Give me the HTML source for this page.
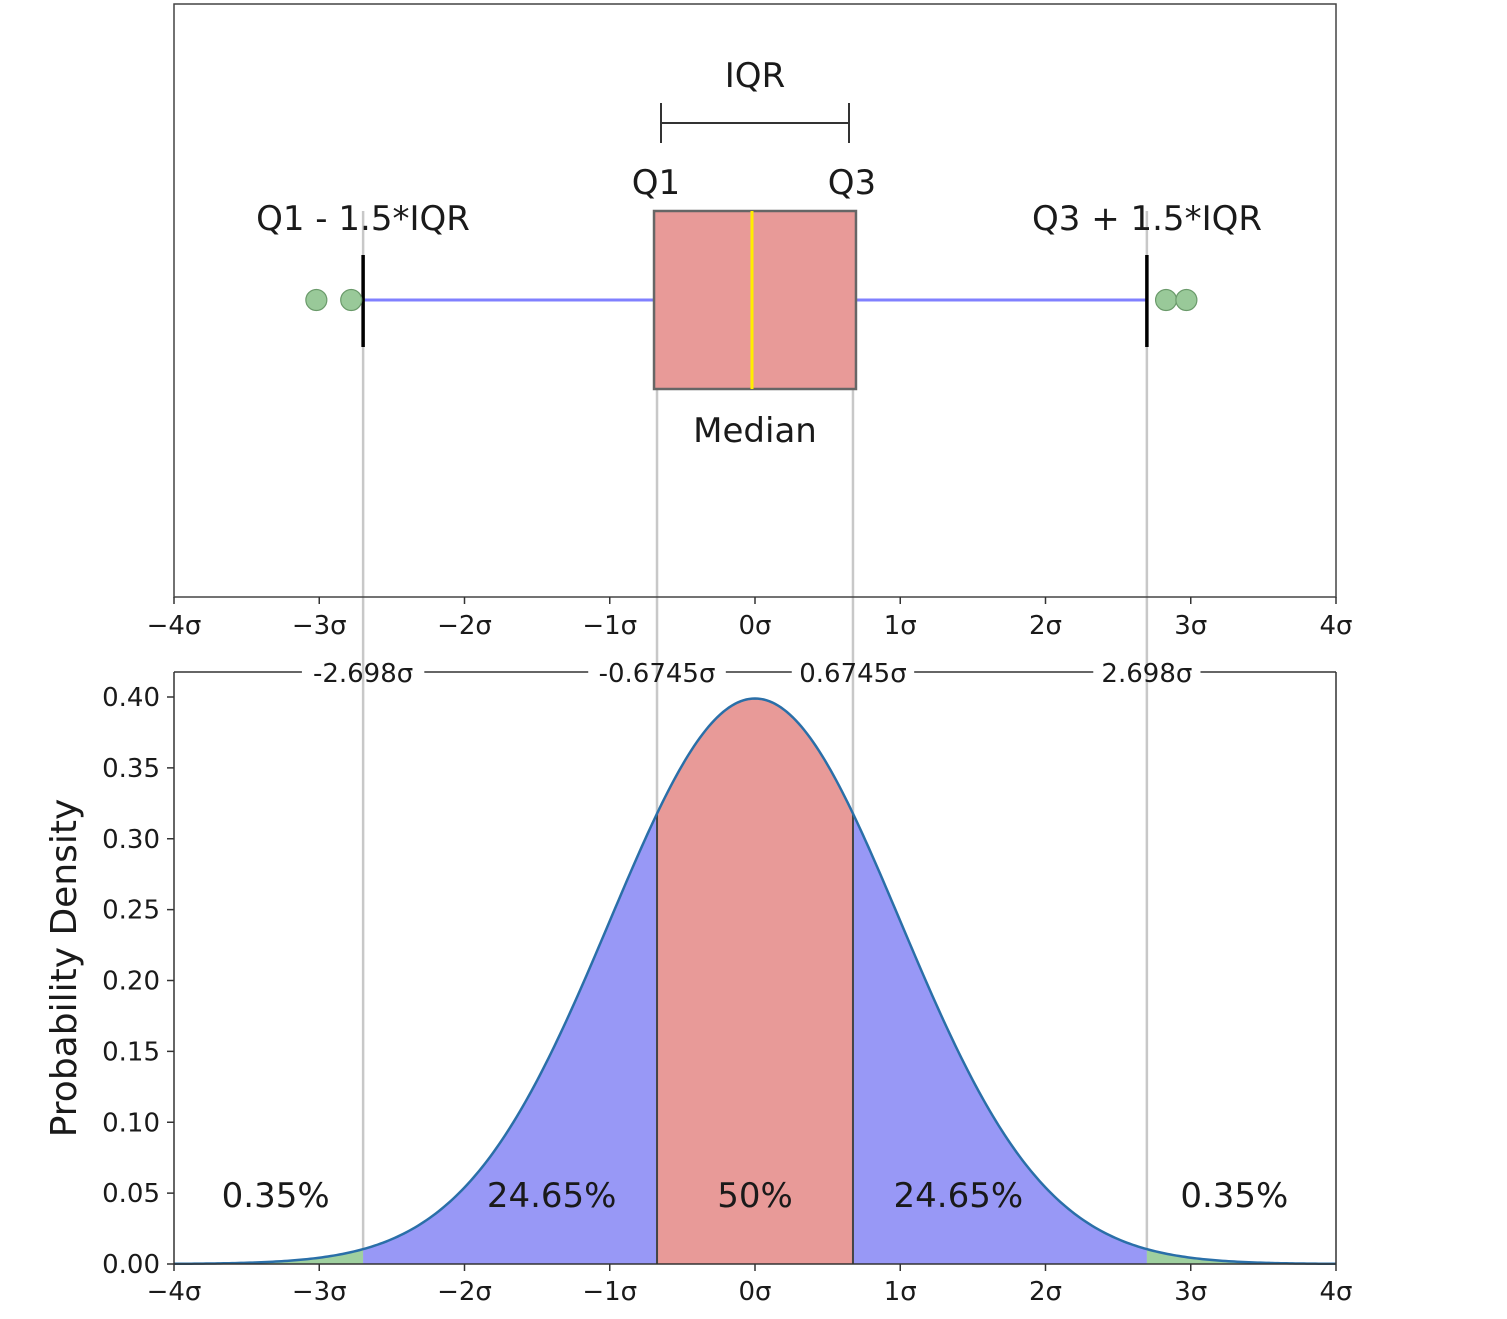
<!DOCTYPE html>
<html><head><meta charset="utf-8"><style>
html,body{margin:0;padding:0;background:#fff;}
svg{display:block;font-family:"DejaVu Sans","Liberation Sans",sans-serif;}
</style></head><body>
<svg id="chart" width="1507" height="1319" viewBox="0 0 1507 1319" xmlns="http://www.w3.org/2000/svg"></svg>
<script>
const xTickVals=[-4,-3,-2,-1,0,1,2,3,4];
const yTickVals=[0,0.05,0.10,0.15,0.20,0.25,0.30,0.35,0.40];
const quartiles=[-0.6745,0,0.6745];
const whiskers=[-2.698,2.698];
const outliers=[-3.02,-2.78,2.83,2.97];
const boundaryLabels=["-2.698σ","-0.6745σ","0.6745σ","2.698σ"];
const boundaryVals=[-2.698,-0.6745,0.6745,2.698];
const pctLabels=["0.35%","24.65%","50%","24.65%","0.35%"];
const pctPos=[-3.30,-1.40,0,1.40,3.30];

const svgEl=document.getElementById('chart');
const NS='http://www.w3.org/2000/svg';
const L=174,R=1336;
const X=v=>755+v*(R-L)/8;
const TT=4,TB=597;
const BT=672,BB=1264;
const Y=v=>BB-v*(BB-697)/0.40;
function mk(tag,attrs,parent){const e=document.createElementNS(NS,tag);for(const k in attrs)e.setAttribute(k,attrs[k]);(parent||svgEl).appendChild(e);return e;}
function txt(s,x,y,size,anchor,parent){const t=mk('text',{x:x,y:y,'font-size':size,'text-anchor':anchor||'middle',fill:'#1a1a1a'},parent);t.textContent=s;return t;}
function sig(v){return v===0?'0σ':(v<0?'−'+(-v)+'σ':v+'σ');}

boundaryVals.forEach(v=>{
  const g=mk('line',{x1:X(v),x2:X(v),y1:211,y2:BB,stroke:'#c8c8c8','stroke-width':2.5});
  
  
});

const topG=mk('g',{});


mk('rect',{x:L,y:TT,width:R-L,height:TB-TT,fill:'none',stroke:'#444','stroke-width':1.5},topG);
const wl=mk('line',{x1:X(whiskers[0]),x2:X(quartiles[0]),y1:300,y2:300,stroke:'#8080ff','stroke-width':3},topG);


const wr=mk('line',{x1:X(quartiles[2]),x2:X(whiskers[1]),y1:300,y2:300,stroke:'#8080ff','stroke-width':3},topG);


const box=mk('rect',{x:X(quartiles[0])-3,y:211,width:X(quartiles[2])-X(quartiles[0])+6,height:178,fill:'#e89a98',stroke:'#666','stroke-width':2.5},topG);


const med=mk('line',{x1:X(quartiles[1])-3,x2:X(quartiles[1])-3,y1:211,y2:389,stroke:'#ffee00','stroke-width':3},topG);


whiskers.forEach(v=>{
  const c=mk('line',{x1:X(v),x2:X(v),y1:255,y2:347,stroke:'#000','stroke-width':3.5},topG);
  
  
});
outliers.forEach(v=>{
  const c=mk('circle',{cx:X(v),cy:300,r:10.5,fill:'#99c999',stroke:'#6a9a6a','stroke-width':1.2},topG);
  
  
});
const br=mk('g',{stroke:'#333','stroke-width':2},topG);


mk('line',{x1:661,x2:849,y1:123,y2:123},br);
mk('line',{x1:661,x2:661,y1:103,y2:143},br);
mk('line',{x1:849,x2:849,y1:103,y2:143},br);
[["IQR",755,87,'iqr-label'],["Q1",656,194,'q1-label'],["Q3",852,194,'q3-label'],["Q1 - 1.5*IQR",363,230,'lower-fence-label'],["Q3 + 1.5*IQR",1147,230,'upper-fence-label'],["Median",755,442,'median-label']].forEach(a=>{
  const t=txt(a[0],a[1],a[2],34,'middle',topG);
  
  
});
xTickVals.forEach(v=>{
  mk('line',{x1:X(v),x2:X(v),y1:TB,y2:TB+7,stroke:'#333','stroke-width':1.5},topG);
  const t=txt(sig(v),X(v),634,26,'middle',topG);
  
  
});

const botG=mk('g',{});


const pdf=x=>Math.exp(-x*x/2)/Math.sqrt(2*Math.PI);
function area(a,b,fill,name){
  let d='M'+X(a)+','+Y(0);
  for(let i=0;i<=200;i++){const x=a+(b-a)*i/200;d+=' L'+X(x).toFixed(2)+','+Y(pdf(x)).toFixed(2);}
  d+=' L'+X(b)+','+Y(0)+' Z';
  const p=mk('path',{d:d,fill:fill},botG);
  
  
}
area(-4,boundaryVals[0],'#9fd09f','left-tail-area');
area(boundaryVals[0],boundaryVals[1],'#9898f6','lower-quartile-area');
area(boundaryVals[1],boundaryVals[2],'#e89a98','iqr-area');
area(boundaryVals[2],boundaryVals[3],'#9898f6','upper-quartile-area');
area(boundaryVals[3],4,'#9fd09f','right-tail-area');
[boundaryVals[1],boundaryVals[2]].forEach(v=>{
  mk('line',{x1:X(v),x2:X(v),y1:Y(0),y2:Y(pdf(v)),stroke:'#444','stroke-width':2},botG);
});
let cd='';
for(let i=0;i<=400;i++){const x=-4+8*i/400;cd+=(i?' L':'M')+X(x).toFixed(2)+','+Y(pdf(x)).toFixed(2);}
const curve=mk('path',{d:cd,fill:'none',stroke:'#2a6fa8','stroke-width':2.5},botG);


mk('line',{x1:L,x2:L,y1:BT,y2:BB,stroke:'#333','stroke-width':1.5},botG);
mk('line',{x1:R,x2:R,y1:BT,y2:BB,stroke:'#333','stroke-width':1.5},botG);
mk('line',{x1:L,x2:R,y1:BB,y2:BB,stroke:'#333','stroke-width':1.5},botG);
const gaps=boundaryLabels.map((s,i)=>{const w=s.length*15.2;return [X(boundaryVals[i])-w/2-8,X(boundaryVals[i])+w/2+8];});
let prev=L;
gaps.forEach(g=>{mk('line',{x1:prev,x2:g[0],y1:BT,y2:BT,stroke:'#333','stroke-width':1.5},botG);prev=g[1];});
mk('line',{x1:prev,x2:R,y1:BT,y2:BT,stroke:'#333','stroke-width':1.5},botG);
boundaryLabels.forEach((s,i)=>{
  const t=txt(s,X(boundaryVals[i]),682,26,'middle',botG);
  
  
});
yTickVals.forEach(v=>{
  mk('line',{x1:L-7,x2:L,y1:Y(v),y2:Y(v),stroke:'#333','stroke-width':1.5},botG);
  const t=txt(v.toFixed(2),160,Y(v)+9,26,'end',botG);
  
  
});
xTickVals.forEach(v=>{
  mk('line',{x1:X(v),x2:X(v),y1:BB,y2:BB+7,stroke:'#333','stroke-width':1.5},botG);
  const t=txt(sig(v),X(v),1300,26,'middle',botG);
  
  
});
pctLabels.forEach((s,i)=>{
  const t=txt(s,X(pctPos[i]),1207,34,'middle',botG);
  
  
});
const yt=txt('Probability Density',0,0,36,'middle',botG);
yt.setAttribute('transform','translate(76,968) rotate(-90)');


</script>
</body></html>
